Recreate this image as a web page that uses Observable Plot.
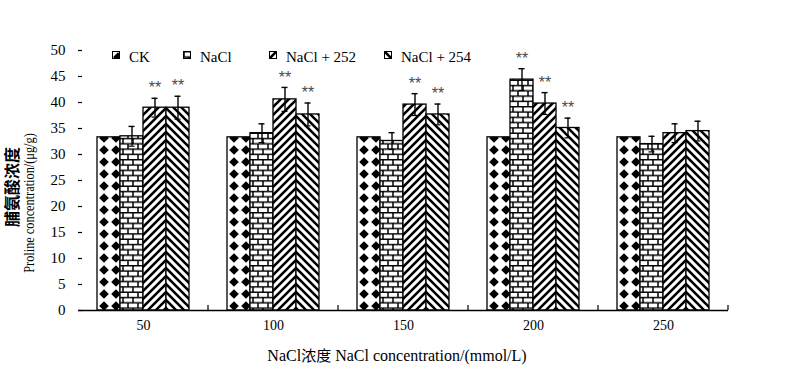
<!DOCTYPE html>
<html>
<head>
<meta charset="utf-8">
<script src="https://cdn.jsdelivr.net/npm/d3@7"></script>
<script src="https://cdn.jsdelivr.net/npm/@observablehq/plot@0.6"></script>
<style>
  html, body { margin: 0; padding: 0; background: #fff; }
  #wrap { position: relative; width: 800px; height: 377px; overflow: hidden; font-family: "Liberation Serif", "Times New Roman", serif; color: #000; }
  #chart { position: absolute; left: 0; top: 0; }
  .legend-item { position: absolute; top: 49px; font-size: 15px; line-height: 16px; white-space: nowrap; display: flex; align-items: flex-start; }
  .legend-item svg { margin-top: 2px; margin-right: 9px; }
  .ytitle { position: absolute; white-space: nowrap; transform: translate(-50%, -50%) rotate(-90deg); }
  #xtitle { position: absolute; left: 397px; top: 354px; transform: translate(-50%, -50%); white-space: nowrap; font-size: 16px; }
  .cjk { font-family: "Noto Sans CJK SC", sans-serif; }
</style>
</head>
<body>
<svg width="0" height="0" style="position:absolute">
  <defs>
    <pattern id="pCK" patternUnits="userSpaceOnUse" width="12" height="12">
      <rect width="12" height="12" fill="#fff"/>
      <polygon points="6,1.2 10.8,6 6,10.8 1.2,6" fill="#000"/>
    </pattern>
    <pattern id="pNaCl" patternUnits="userSpaceOnUse" width="10" height="10.6">
      <rect width="10" height="10.6" fill="#fff"/>
      <path d="M0,0.7 H10 M0,6 H10 M1,0.7 V6 M6,6 V10.6" stroke="#000" stroke-width="1.5" fill="none"/>
    </pattern>
    <pattern id="p252" patternUnits="userSpaceOnUse" width="8" height="8">
      <rect width="8" height="8" fill="#fff"/>
      <path d="M-2,2 L2,-2 M0,8 L8,0 M6,10 L10,6" stroke="#000" stroke-width="2.6" fill="none"/>
    </pattern>
    <pattern id="p254" patternUnits="userSpaceOnUse" width="8" height="8">
      <rect width="8" height="8" fill="#fff"/>
      <path d="M-2,6 L2,10 M0,0 L8,8 M6,-2 L10,2" stroke="#000" stroke-width="2.6" fill="none"/>
    </pattern>
  </defs>
</svg>
<div id="wrap">
  <div id="chart"></div>
  <div class="ytitle cjk" style="left:11px; top:187px; font-size:16px; font-weight:bold;">脯氨酸浓度</div>
  <div class="ytitle" style="left:29px; top:203px; font-size:15px; transform: translate(-50%, -50%) rotate(-90deg) scale(0.82, 1);">Proline concentration/(μg/g)</div>
  <div id="xtitle">NaCl<span class="cjk" style="font-size:15px">浓度</span> NaCl concentration/(mmol/L)</div>
</div>
<script>
// ---- data ----
const groups = ["50", "100", "150", "200", "250"];
const series = ["CK", "NaCl", "NaCl + 252", "NaCl + 254"];
const ckValues     = [33.3, 33.3, 33.3, 33.3, 33.3];
const naclValues   = [33.5, 34.1, 32.6, 44.4, 32.0];
const nacl252Values = [39.0, 40.6, 39.6, 39.8, 34.1];
const nacl254Values = [39.0, 37.7, 37.7, 35.1, 34.5];
const ckErr     = [0, 0, 0, 0, 0];
const naclErr   = [1.9, 1.8, 1.6, 2.1, 1.5];
const nacl252Err = [1.8, 2.3, 2.1, 2.1, 1.8];
const nacl254Err = [2.2, 2.2, 2.0, 1.9, 1.9];
const ckSig     = ["", "", "", "", ""];
const naclSig   = ["", "", "", "**", ""];
const nacl252Sig = ["**", "**", "**", "**", ""];
const nacl254Sig = ["**", "**", "**", "**", ""];
const yTicks = [0, 5, 10, 15, 20, 25, 30, 35, 40, 45, 50];
const patternIds = ["pCK", "pNaCl", "p252", "p254"];

const valuesBySeries = [ckValues, naclValues, nacl252Values, nacl254Values];
const errBySeries = [ckErr, naclErr, nacl252Err, nacl254Err];
const sigBySeries = [ckSig, naclSig, nacl252Sig, nacl254Sig];

const data = [];
groups.forEach((g, gi) => {
  series.forEach((s, si) => {
    const v = valuesBySeries[si][gi];
    const e = errBySeries[si][gi];
    data.push({group: g, series: s, value: v, err: e, lo: v - e, hi: v + e, sig: sigBySeries[si][gi]});
  });
});
const errData = data.filter(d => d.err > 0);
const sigData = data.filter(d => d.sig);

const ns = "http://www.w3.org/2000/svg";
// small upward tick at the right edge of each group band on the x axis
const boundaryTicks = Plot.ruleY([0], {
  render(index, scales, values, dims) {
    const g = document.createElementNS(ns, "g");
    const x = dims.width - dims.marginRight;
    const y0 = scales.y(0);
    const line = document.createElementNS(ns, "line");
    line.setAttribute("x1", x); line.setAttribute("x2", x);
    line.setAttribute("y1", y0); line.setAttribute("y2", y0 - 5);
    line.setAttribute("stroke", "#000"); line.setAttribute("stroke-width", "1.2");
    g.appendChild(line);
    return g;
  }
});

const plot = Plot.plot({
  width: 800,
  height: 377,
  marginLeft: 76,
  marginRight: 70,
  marginTop: 50,
  marginBottom: 67,
  style: {fontFamily: "'Liberation Serif', 'Times New Roman', serif", color: "#000", background: "transparent"},
  fx: {domain: groups, padding: 0, label: null},
  x: {domain: series, paddingInner: 0, paddingOuter: 0.75, axis: null},
  y: {domain: [0, 50], label: null},
  color: {domain: series, range: patternIds.map(id => `url(#${id})`)},
  marks: [
    Plot.barY(data, {fx: "group", x: "series", y: "value", fill: "series", stroke: "#000", strokeWidth: 1.3}),
    Plot.ruleX(errData, {fx: "group", x: "series", y1: "lo", y2: "hi", stroke: "#000", strokeWidth: 1.4}),
    Plot.tickY(errData, {fx: "group", x: "series", y: "hi", insetLeft: 8.5, insetRight: 8.5, stroke: "#000", strokeWidth: 1.4}),
    Plot.tickY(errData, {fx: "group", x: "series", y: "lo", insetLeft: 8.5, insetRight: 8.5, stroke: "#000", strokeWidth: 1.2}),
    Plot.text(sigData, {fx: "group", x: "series", y: "hi", text: "sig", dy: -10, fontSize: 16, fill: "#4a4a4a", fontFamily: "'Liberation Sans', sans-serif"}),
    Plot.ruleY([0], {stroke: "#000", strokeWidth: 1.4}),
    boundaryTicks,
    Plot.axisY({ticks: yTicks, tickSize: -4, tickPadding: 17, line: true, label: null, fontSize: 15, stroke: "#000", strokeWidth: 1.2}),
    Plot.axisFx({anchor: "bottom", tickSize: 0, tickPadding: 10, label: null, fontSize: 14})
  ]
});
document.getElementById("chart").appendChild(plot);

// legend (HTML, above the bars inside the plot area)
const legendLeft = [112, 183, 269, 384];
const wrap = document.getElementById("wrap");
series.forEach((s, i) => {
  const item = document.createElement("div");
  item.className = "legend-item";
  item.style.left = legendLeft[i] + "px";
  item.innerHTML = `<svg width="8" height="8"><rect x="0.5" y="0.5" width="7" height="7" fill="url(#${patternIds[i]})" stroke="#000" stroke-width="1"/></svg><span>${s}</span>`;
  wrap.appendChild(item);
});
</script>
</body>
</html>
